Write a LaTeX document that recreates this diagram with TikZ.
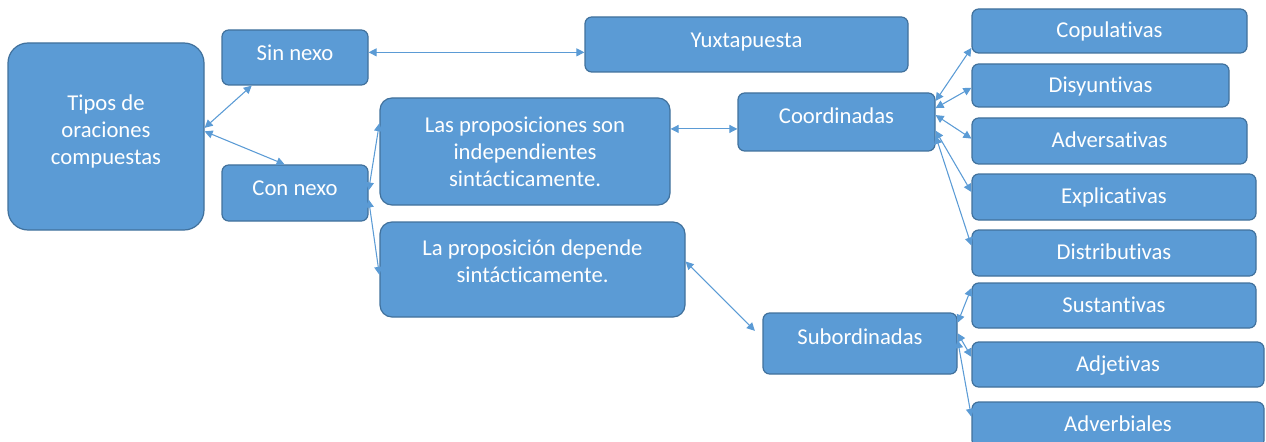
\documentclass[tikz,border=0pt]{standalone}
\usepackage{fontspec}
\setmainfont{Carlito}[Ligatures=NoCommon]
\usepackage{xcolor}
\usepackage{tikz}
\usetikzlibrary{arrows.meta}
\definecolor{azul}{HTML}{5B9BD5}
\definecolor{bordeazul}{HTML}{41719C}
\newcommand{\letra}{\fontsize{17}{20.25}\selectfont}
\tikzset{
  caja/.style={draw=bordeazul, line width=0.9pt, fill=azul, rounded corners=5pt, align=center, text=white, font=\letra, inner sep=2pt, minimum width=#1},
  caja/.default=213pt,
  linea/.style={text height=12.75pt, text depth=#1},
  linea/.default=2.4pt,
  flecha/.style={{Triangle[width=6pt,length=6pt]}-{Triangle[width=6pt,length=6pt]}, draw=azul, line width=0.8pt},
}

\begin{document}
\begin{tikzpicture}[x=0.75pt, y=-0.75pt]
  \useasboundingbox (0,0) rectangle (1266,442);
  \node[caja=147pt, minimum height=140.25pt, rounded corners=15pt, text depth=11pt] (tipos) at (106,136.5) {Tipos de\\oraciones\\compuestas};
  \node[caja=109.5pt, minimum height=41.25pt, linea=7.5pt] (sin) at (295,57.5) {Sin nexo};
  \node[caja=109.5pt, minimum height=42pt, linea=8.7pt] (con) at (295,193) {Con nexo};
  \node[caja=217.5pt, minimum height=80.25pt, rounded corners=9pt] (indep) at (525,151.5) {Las proposiciones son\\independientes\\sintácticamente.};
  \node[caja=228.75pt, minimum height=71.25pt, rounded corners=9pt, text depth=12pt] (depend) at (532.5,269.5) {La proposición depende\\sintácticamente.};
  \node[caja=242.25pt, minimum height=41.25pt, linea=8pt] (yuxta) at (746.5,44.5) {Yuxtapuesta};
  \node[caja=147.75pt, minimum height=43.5pt, linea=10.7pt] (coord) at (836.5,122) {Coordinadas};
  \node[caja=145.5pt, minimum height=45.75pt, linea=11.6pt] (subord) at (860,343.5) {Subordinadas};
  \node[caja=206.25pt, minimum height=33pt, linea] (copul) at (1109.5,31) {Copulativas};
  \node[caja=192.75pt, minimum height=32.25pt, linea] (disy) at (1100.5,85.5) {Disyuntivas};
  \node[caja=206.25pt, minimum height=34.5pt, linea] (adver) at (1109.5,141) {Adversativas};
  \node[caja, minimum height=34.5pt, linea] (expl) at (1114,197) {Explicativas};
  \node[caja, minimum height=34.5pt, linea] (distr) at (1114,253) {Distributivas};
  \node[caja, minimum height=33.75pt, linea] (sust) at (1114,305.5) {Sustantivas};
  \node[caja=219pt, minimum height=33.75pt, linea] (adj) at (1118,364.5) {Adjetivas};
  \node[caja=219pt, minimum height=33.75pt, linea] (adv) at (1118,424.5) {Adverbiales};
  \draw[flecha] (tipos.5) -- (sin.213);
  \draw[flecha] (tipos.3) -- (con.110);
  \draw[flecha] (sin.4) -- (sin.4 -| yuxta.west);
  \draw[flecha] (con.2) -- (indep.169);
  \draw[flecha] (con.-5) -- (depend.182);
  \draw[flecha] (coord.184 -| indep.east) -- (coord.184);
  \draw[flecha, shorten >=8pt] (depend.3) -- (subord.177);
  \draw[flecha] (coord.12) -- (copul.187);
  \draw[flecha] (coord.8) -- (disy.181);
  \draw[flecha] (coord.4) -- (adver.179);
  \draw[flecha] (coord.-5) -- (expl.178);
  \draw[flecha] (coord.-8) -- (distr.177);
  \draw[flecha] (subord.12) -- (sust.173);
  \draw[flecha] (subord.6) -- (adj.177);
  \draw[flecha] (subord.2) -- (adv.177);
\end{tikzpicture}
\end{document}
